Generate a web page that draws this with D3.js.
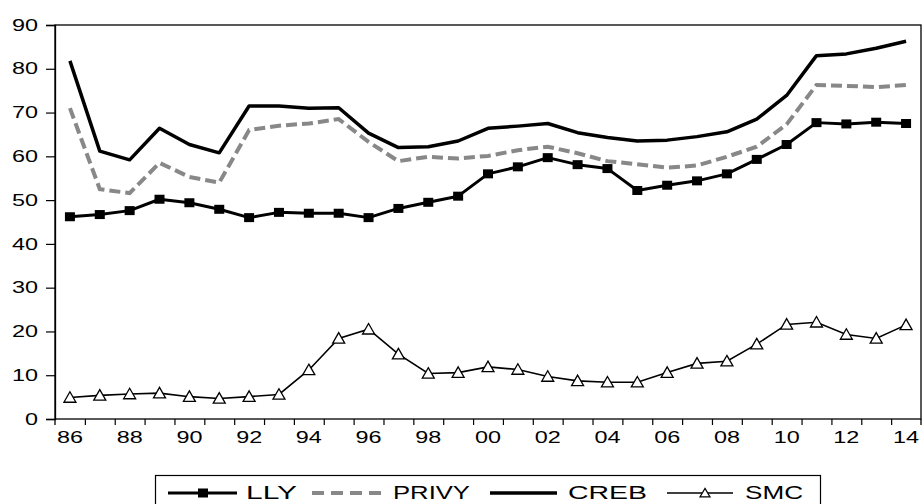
<!DOCTYPE html>
<html>
<head>
<meta charset="utf-8">
<script src="https://cdn.jsdelivr.net/npm/d3@7"></script>
<style>
  html, body { margin: 0; padding: 0; background: #fff; }
  svg { display: block; }
  text { font-family: Arial, "Liberation Sans", sans-serif; fill: #000; }
</style>
</head>
<body>
<svg id="chart" width="922" height="504"></svg>
<script>
const years = [1986,1987,1988,1989,1990,1991,1992,1993,1994,1995,1996,1997,1998,1999,2000,2001,2002,2003,2004,2005,2006,2007,2008,2009,2010,2011,2012,2013,2014];
const lly   = [46.2,46.7,47.6,50.2,49.4,47.9,46.0,47.2,47.0,47.0,46.0,48.1,49.5,50.9,56.0,57.6,59.7,58.1,57.2,52.2,53.4,54.4,56.0,59.3,62.7,67.7,67.4,67.8,67.5];
const privy = [71.0,52.5,51.6,58.5,55.3,54.0,66.0,67.0,67.5,68.5,63.3,58.9,59.9,59.5,60.1,61.4,62.2,60.7,58.9,58.2,57.4,57.9,59.9,62.2,67.3,76.3,76.1,75.8,76.3];
const creb  = [81.8,61.2,59.2,66.4,62.7,60.8,71.5,71.5,71.0,71.1,65.3,62.0,62.2,63.5,66.4,66.9,67.5,65.4,64.3,63.5,63.7,64.5,65.6,68.5,73.9,83.0,83.4,84.7,86.3];
const smc   = [4.9,5.4,5.7,5.9,5.1,4.7,5.1,5.6,11.2,18.4,20.5,14.8,10.4,10.6,11.9,11.3,9.7,8.7,8.4,8.4,10.6,12.7,13.2,17.1,21.6,22.1,19.3,18.4,21.5];
const yTicks = [0,10,20,30,40,50,60,70,80,90];
const xLabelYears = [1986,1988,1990,1992,1994,1996,1998,2000,2002,2004,2006,2008,2010,2012,2014];
const seriesNames = ["LLY","PRIVY","CREB","SMC"];

const svg = d3.select("#chart");
const L = 55, R = 921, T = 25, B = 419;

const x = d3.scaleBand().domain(years).range([L, R]).padding(0);
const xb = d3.scaleLinear().domain([1985.5, 2014.5]).range([L, R]);
const y = d3.scaleLinear().domain([0, 90]).range([B, T]);
const cx = d => x(d) + x.bandwidth() / 2;

// frame
svg.append("rect").attr("x", L).attr("y", T).attr("width", R - L).attr("height", B - T)
  .attr("fill", "none").attr("stroke", "#000").attr("stroke-width", 1.3);

// y axis
const gy = svg.append("g").attr("transform", `translate(${L},0)`)
  .call(d3.axisLeft(y).tickValues(yTicks).tickSize(9).tickPadding(8).tickFormat(d3.format("d")));
gy.select(".domain").attr("stroke-width", 1.3);
gy.selectAll(".tick line").attr("stroke-width", 1.2);
gy.selectAll("text").attr("font-size", 16)
  .attr("textLength", d => d < 10 ? 13 : 26).attr("lengthAdjust", "spacingAndGlyphs");

// x axis ticks at band boundaries
const boundaries = d3.range(1986.5, 2014.5, 1);
const gxt = svg.append("g").attr("transform", `translate(0,${B})`)
  .call(d3.axisBottom(xb).tickValues(boundaries).tickSize(6).tickFormat(""));
gxt.select(".domain").remove();
gxt.selectAll(".tick line").attr("stroke-width", 1.2);
// extend left axis below baseline
svg.append("line").attr("x1", L).attr("x2", L).attr("y1", B).attr("y2", B + 6).attr("stroke", "#000").attr("stroke-width", 1.3);
svg.append("line").attr("x1", R).attr("x2", R).attr("y1", B).attr("y2", B + 6).attr("stroke", "#000").attr("stroke-width", 1.3);

// x labels
const gxl = svg.append("g").attr("transform", `translate(0,${B})`)
  .call(d3.axisBottom(x).tickValues(xLabelYears).tickSize(0).tickPadding(13)
    .tickFormat(d => String(d).slice(2)));
gxl.select(".domain").remove();
gxl.selectAll("text").attr("font-size", 16)
  .attr("textLength", 26).attr("lengthAdjust", "spacingAndGlyphs");

// lines
const line = d3.line().x((d, i) => cx(years[i])).y(d => y(d));

svg.append("path").datum(privy).attr("d", line).attr("fill", "none")
  .attr("stroke", "#888").attr("stroke-width", 4).attr("stroke-dasharray", "11,5");
svg.append("path").datum(creb).attr("d", line).attr("fill", "none")
  .attr("stroke", "#000").attr("stroke-width", 3.5).attr("stroke-linejoin", "round");
svg.append("path").datum(lly).attr("d", line).attr("fill", "none")
  .attr("stroke", "#000").attr("stroke-width", 3).attr("stroke-linejoin", "round");
svg.selectAll("rect.sq").data(lly).enter().append("rect").attr("class", "sq")
  .attr("x", (d, i) => cx(years[i]) - 5).attr("y", d => y(d) - 4.5)
  .attr("width", 10).attr("height", 9).attr("fill", "#000");

svg.append("path").datum(smc).attr("d", line).attr("fill", "none")
  .attr("stroke", "#000").attr("stroke-width", 1.6);
const tri = (px, py, w, h) => `M${px},${py - h * 0.55} L${px + w / 2},${py + h * 0.45} L${px - w / 2},${py + h * 0.45} Z`;
svg.selectAll("path.tri").data(smc).enter().append("path").attr("class", "tri")
  .attr("d", (d, i) => tri(cx(years[i]), y(d), 12, 10.5))
  .attr("fill", "#fff").attr("stroke", "#000").attr("stroke-width", 1.3);

// legend
const lg = svg.append("g");
lg.append("rect").attr("x", 155.5).attr("y", 475.5).attr("width", 665).attr("height", 40)
  .attr("fill", "#fff").attr("stroke", "#000").attr("stroke-width", 1.2);
const ly = 493;
const items = [
  { name: seriesNames[0], x1: 168, x2: 237, tx: 246, tw: 51 },
  { name: seriesNames[1], x1: 312, x2: 381, tx: 393, tw: 77 },
  { name: seriesNames[2], x1: 490, x2: 557, tx: 568, tw: 79 },
  { name: seriesNames[3], x1: 667, x2: 733, tx: 745, tw: 58 }
];
// LLY
lg.append("line").attr("x1", items[0].x1).attr("x2", items[0].x2).attr("y1", ly).attr("y2", ly).attr("stroke", "#000").attr("stroke-width", 3);
lg.append("rect").attr("x", 198).attr("y", ly - 4.5).attr("width", 10).attr("height", 9).attr("fill", "#000");
// PRIVY
lg.append("line").attr("x1", items[1].x1).attr("x2", items[1].x2).attr("y1", ly).attr("y2", ly).attr("stroke", "#888").attr("stroke-width", 4).attr("stroke-dasharray", "12,7");
// CREB
lg.append("line").attr("x1", items[2].x1).attr("x2", items[2].x2).attr("y1", ly).attr("y2", ly).attr("stroke", "#000").attr("stroke-width", 3.5);
// SMC
lg.append("line").attr("x1", items[3].x1).attr("x2", items[3].x2).attr("y1", ly).attr("y2", ly).attr("stroke", "#000").attr("stroke-width", 1.5);
lg.append("path").attr("d", tri(705, ly, 10, 8.5)).attr("fill", "#fff").attr("stroke", "#000").attr("stroke-width", 1.2);

items.forEach(it => {
  lg.append("text").attr("x", it.tx).attr("y", 499).attr("font-size", 19)
    .attr("textLength", it.tw).attr("lengthAdjust", "spacingAndGlyphs").text(it.name);
});
</script>
</body>
</html>
